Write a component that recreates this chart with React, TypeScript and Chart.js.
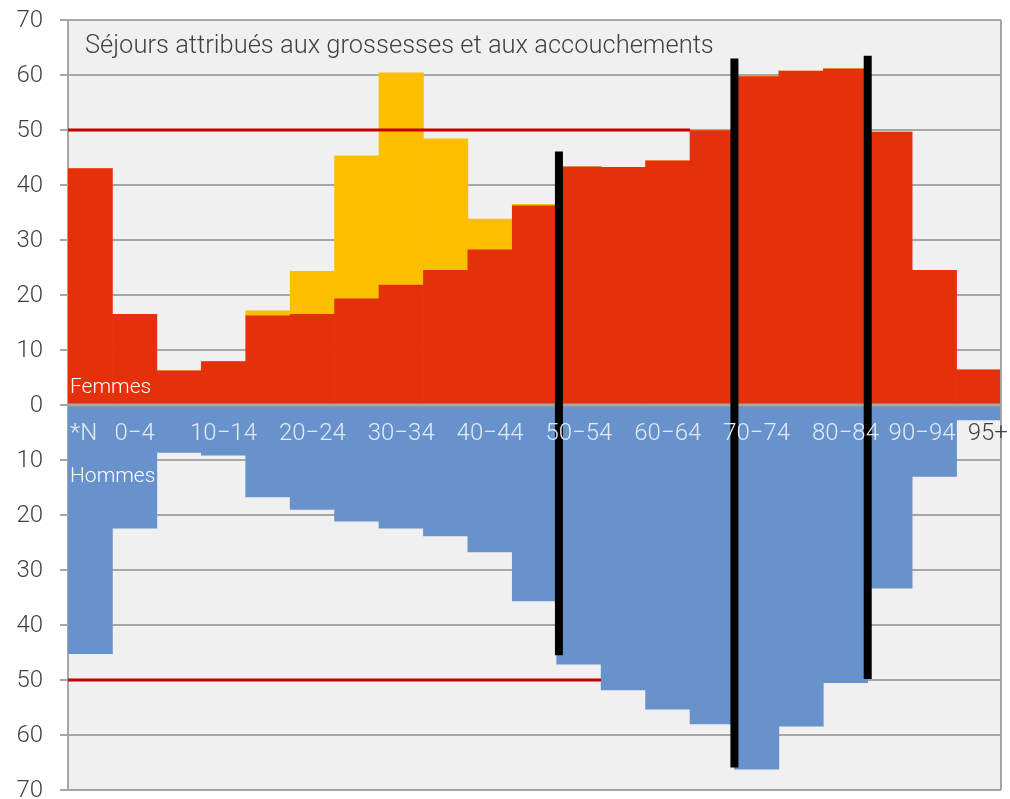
import React, { useEffect, useRef } from 'react';
import { Chart, registerables } from 'chart.js';

Chart.register(...registerables);

// ---- Data ----
const categories = ['*N', '0-4', '5-9', '10-14', '15-19', '20-24', '25-29', '30-34', '35-39', '40-44', '45-49', '50-54', '55-59', '60-64', '65-69', '70-74', '75-79', '80-84', '85-89', '90-94', '95+'];
const tickLabels = ['*N', '0\u22124', '', '10\u221214', '', '20\u221224', '', '30\u221234', '', '40\u221244', '', '50\u221254', '', '60\u221264', '', '70\u221274', '', '80\u221284', '', '90\u221294', '95+'];
const femmes = [43.0, 16.5, 6.2, 7.9, 16.2, 16.5, 19.3, 21.8, 24.5, 28.2, 36.2, 43.3, 43.2, 44.4, 49.9, 59.7, 60.7, 61.1, 49.6, 24.5, 6.4];
const grossesses = [0, 0, 0, 0, 0.9, 7.8, 26.0, 38.6, 23.9, 5.6, 0.3, 0, 0, 0, 0, 0, 0, 0, 0, 0, 0];
const hommes = [45.2, 22.4, 8.6, 9.1, 16.7, 19.0, 21.1, 22.4, 23.8, 26.7, 35.6, 47.1, 51.8, 55.3, 58.0, 66.2, 58.4, 50.5, 33.3, 13.0, 2.7];
const referenceLevels = [50, -50];
const referenceEnds = [13.5, 11.5];
const markerPositions = [10.55, 14.5, 17.5];
const markerTops = [46.1, 63.0, 63.5];
const markerBottoms = [-45.5, -65.9, -49.8];
const title = 'S\u00e9jours attribu\u00e9s aux grossesses et aux accouchements';
const femmesLabel = 'Femmes';
const hommesLabel = 'Hommes';

const RED = '#E5300C';
const YELLOW = '#FBBF00';
const BLUE = '#6892CC';
const GRID = '#A6A6A6';
const BG = '#F0F0F0';
const TEXT = '#404040';
const FONT = '"Roboto Light", Roboto';

const decor = {
  id: 'decor',
  beforeDraw(chart: any) {
    const { ctx, chartArea: a } = chart;
    ctx.save();
    ctx.fillStyle = BG;
    ctx.fillRect(a.left, a.top, a.right - a.left, a.bottom - a.top);
    ctx.restore();
  },
  afterDatasetsDraw(chart: any) {
    const { ctx, chartArea: a } = chart;
    const xs = chart.scales.x;
    const ys = chart.scales.y;
    const y0 = ys.getPixelForValue(0);
    ctx.save();
    // right border
    ctx.strokeStyle = GRID;
    ctx.lineWidth = 2;
    ctx.beginPath();
    ctx.moveTo(a.right, a.top);
    ctx.lineTo(a.right, a.bottom);
    ctx.stroke();
    // zero line
    ctx.lineWidth = 3;
    ctx.beginPath();
    ctx.moveTo(a.left, y0);
    ctx.lineTo(a.right, y0);
    ctx.stroke();
    // reference lines
    ctx.strokeStyle = '#C00000';
    ctx.lineWidth = 3;
    referenceLevels.forEach((lv, i) => {
      const y = ys.getPixelForValue(lv);
      ctx.beginPath();
      ctx.moveTo(a.left, y);
      ctx.lineTo(xs.getPixelForValue(referenceEnds[i]), y);
      ctx.stroke();
    });
    // markers
    ctx.strokeStyle = '#000000';
    ctx.lineWidth = 8;
    markerPositions.forEach((p, i) => {
      const x = xs.getPixelForValue(p);
      ctx.beginPath();
      ctx.moveTo(x, ys.getPixelForValue(markerTops[i]));
      ctx.lineTo(x, ys.getPixelForValue(markerBottoms[i]));
      ctx.stroke();
    });
    // category labels
    ctx.font = `300 24px ${FONT}`;
    ctx.textBaseline = 'alphabetic';
    const last = tickLabels.length - 1;
    tickLabels.forEach((t, i) => {
      if (!t) return;
      ctx.fillStyle = hommes[i] > 6 ? '#E4EBF5' : TEXT;
      if (i === 0) {
        ctx.textAlign = 'left';
        ctx.fillText(t, a.left + 2, y0 + 35);
      } else if (i === last) {
        ctx.textAlign = 'left';
        ctx.fillText(t, xs.getPixelForValue(i - 0.25), y0 + 35);
      } else if (i === last - 1) {
        ctx.textAlign = 'right';
        ctx.fillText(t, xs.getPixelForValue(i + 0.5) - 1, y0 + 35);
      } else {
        ctx.textAlign = 'center';
        ctx.fillText(t, xs.getPixelForValue(i), y0 + 35);
      }
    });
    // series labels
    ctx.font = `300 21px ${FONT}`;
    ctx.textAlign = 'left';
    ctx.fillStyle = '#FFFFFF';
    ctx.fillText(femmesLabel, a.left + 2, y0 - 12);
    ctx.fillText(hommesLabel, a.left + 2, y0 + 77);
    // title
    ctx.font = `300 25.5px ${FONT}`;
    ctx.fillStyle = TEXT;
    ctx.fillText(title, a.left + 17, a.top + 33);
    ctx.restore();
  },
};

export default function App() {
  const ref = useRef<HTMLCanvasElement>(null);
  useEffect(() => {
    const canvas = ref.current!;
    const chart = new Chart(canvas, {
      type: 'bar',
      data: {
        labels: categories,
        datasets: [
          { label: 'Femmes', data: femmes, backgroundColor: RED, borderWidth: 0, stack: 's' },
          { label: 'Grossesses', data: grossesses, backgroundColor: YELLOW, borderWidth: 0, stack: 's' },
          { label: 'Hommes', data: hommes.map((v) => -v), backgroundColor: BLUE, borderWidth: 0, stack: 's' },
        ],
      },
      options: {
        responsive: false,
        animation: false,
        events: [],
        layout: { padding: { top: 20, right: 9, bottom: 9, left: 0 } },
        datasets: { bar: { barPercentage: 1, categoryPercentage: 1 } },
        plugins: { legend: { display: false }, tooltip: { enabled: false }, title: { display: false } },
        scales: {
          x: { display: false, stacked: true, grid: { display: false } },
          y: {
            stacked: true,
            min: -70,
            max: 70,
            grid: { color: GRID, lineWidth: 2, tickLength: 8, drawTicks: true },
            border: { display: true, color: GRID, width: 2 },
            ticks: {
              stepSize: 10,
              padding: 17,
              color: TEXT,
              font: { family: FONT, size: 24, weight: '300', lineHeight: 1 },
              callback: (v: any) => String(Math.abs(Number(v))),
            },
            afterFit: (scale: any) => {
              scale.width = 68;
              scale.paddingTop = 0;
              scale.paddingBottom = 0;
            },
          },
        },
      },
      plugins: [decor],
    } as any);
    return () => chart.destroy();
  }, []);
  return (
    <canvas
      ref={ref}
      width={1010}
      height={799}
      style={{ position: 'fixed', left: 0, top: 0, width: 1010, height: 799, display: 'block' }}
    />
  );
}
